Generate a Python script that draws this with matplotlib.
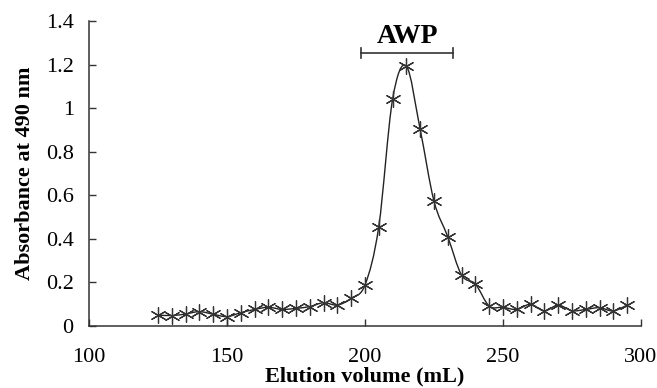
import matplotlib.pyplot as plt
import numpy as np
from matplotlib.path import Path
from matplotlib.patches import PathPatch

plt.rcParams['font.family'] = ['Liberation Serif', 'DejaVu Serif']

volume = [125, 130, 135, 140, 145, 150, 155, 160, 165, 170, 175, 180,
          185, 190, 195, 200, 205, 210, 215, 220, 225, 230, 235, 240,
          245, 250, 255, 260, 265, 270, 275, 280, 285, 290, 295]
absorb = [0.050, 0.048, 0.055, 0.066, 0.054, 0.043, 0.061, 0.076, 0.086,
          0.076, 0.081, 0.089, 0.107, 0.096, 0.127, 0.188, 0.456, 1.040,
          1.193, 0.903, 0.574, 0.410, 0.234, 0.193, 0.092, 0.086, 0.076,
          0.100, 0.069, 0.096, 0.070, 0.076, 0.084, 0.069, 0.096]

x_ticks = [100, 150, 200, 250, 300]
y_ticks = [0, 0.2, 0.4, 0.6, 0.8, 1, 1.2, 1.4]
y_tick_labels = ['0', '0.2', '0.4', '0.6', '0.8', '1', '1.2', '1.4']

peak_name = 'AWP'
peak_range = [198.5, 232]
peak_level = 1.255


def smooth_path(x, y, t=1 / 6.0):
    # bezier segments like a spreadsheet "smoothed line"
    x = np.asarray(x, float)
    y = np.asarray(y, float)
    verts = [(x[0], y[0])]
    codes = [Path.MOVETO]
    n = len(x)
    for i in range(n - 1):
        x0, y0 = (x[i - 1], y[i - 1]) if i > 0 else (x[i], y[i])
        x3, y3 = (x[i + 2], y[i + 2]) if i + 2 < n else (x[i + 1], y[i + 1])
        c1 = (x[i] + (x[i + 1] - x0) * t, y[i] + (y[i + 1] - y0) * t)
        c2 = (x[i + 1] - (x3 - x[i]) * t, y[i + 1] - (y3 - y[i]) * t)
        verts += [c1, c2, (x[i + 1], y[i + 1])]
        codes += [Path.CURVE4] * 3
    return Path(verts, codes)


fig = plt.figure(figsize=(6.57, 3.88), dpi=100)
ax = fig.add_axes([0.1355, 0.1598, 0.840, 0.786])

ax.add_patch(PathPatch(smooth_path(volume, absorb), facecolor='none',
                       edgecolor='#222222', lw=1.0))
ax.plot(volume, absorb, linestyle='none', marker=(6, 2, 0), markersize=11.5,
        markeredgecolor='#333333', markeredgewidth=0.9)

# AWP bracket
ax.plot(peak_range, [peak_level, peak_level], color='#333333', lw=1.2)
for xe in peak_range:
    ax.plot([xe, xe], [peak_level - 0.023, peak_level + 0.023], color='#333333', lw=1.2)
ax.text(np.mean(peak_range), 1.299, peak_name, ha='center', va='baseline',
        fontsize=20, fontweight='bold')

ax.set_xlim(100, 300)
ax.set_ylim(0, 1.4)
ax.set_xticks(x_ticks)
ax.set_yticks(y_ticks)
ax.set_yticklabels(y_tick_labels)
ax.tick_params(direction='in', length=5, width=1, labelsize=16, color='#333333')
ax.tick_params(axis='x', pad=15.5)
ax.tick_params(axis='y', pad=11)
for s in ['top', 'right']:
    ax.spines[s].set_visible(False)
for s in ['left', 'bottom']:
    ax.spines[s].set_color('#333333')
    ax.spines[s].set_linewidth(1.1)

ax.set_xlabel('Elution volume (mL)', fontsize=16, fontweight='bold', labelpad=0)
ax.set_ylabel('Absorbance at 490 nm', fontsize=16, fontweight='bold', labelpad=8)

fig.savefig('out.png', dpi=100)
